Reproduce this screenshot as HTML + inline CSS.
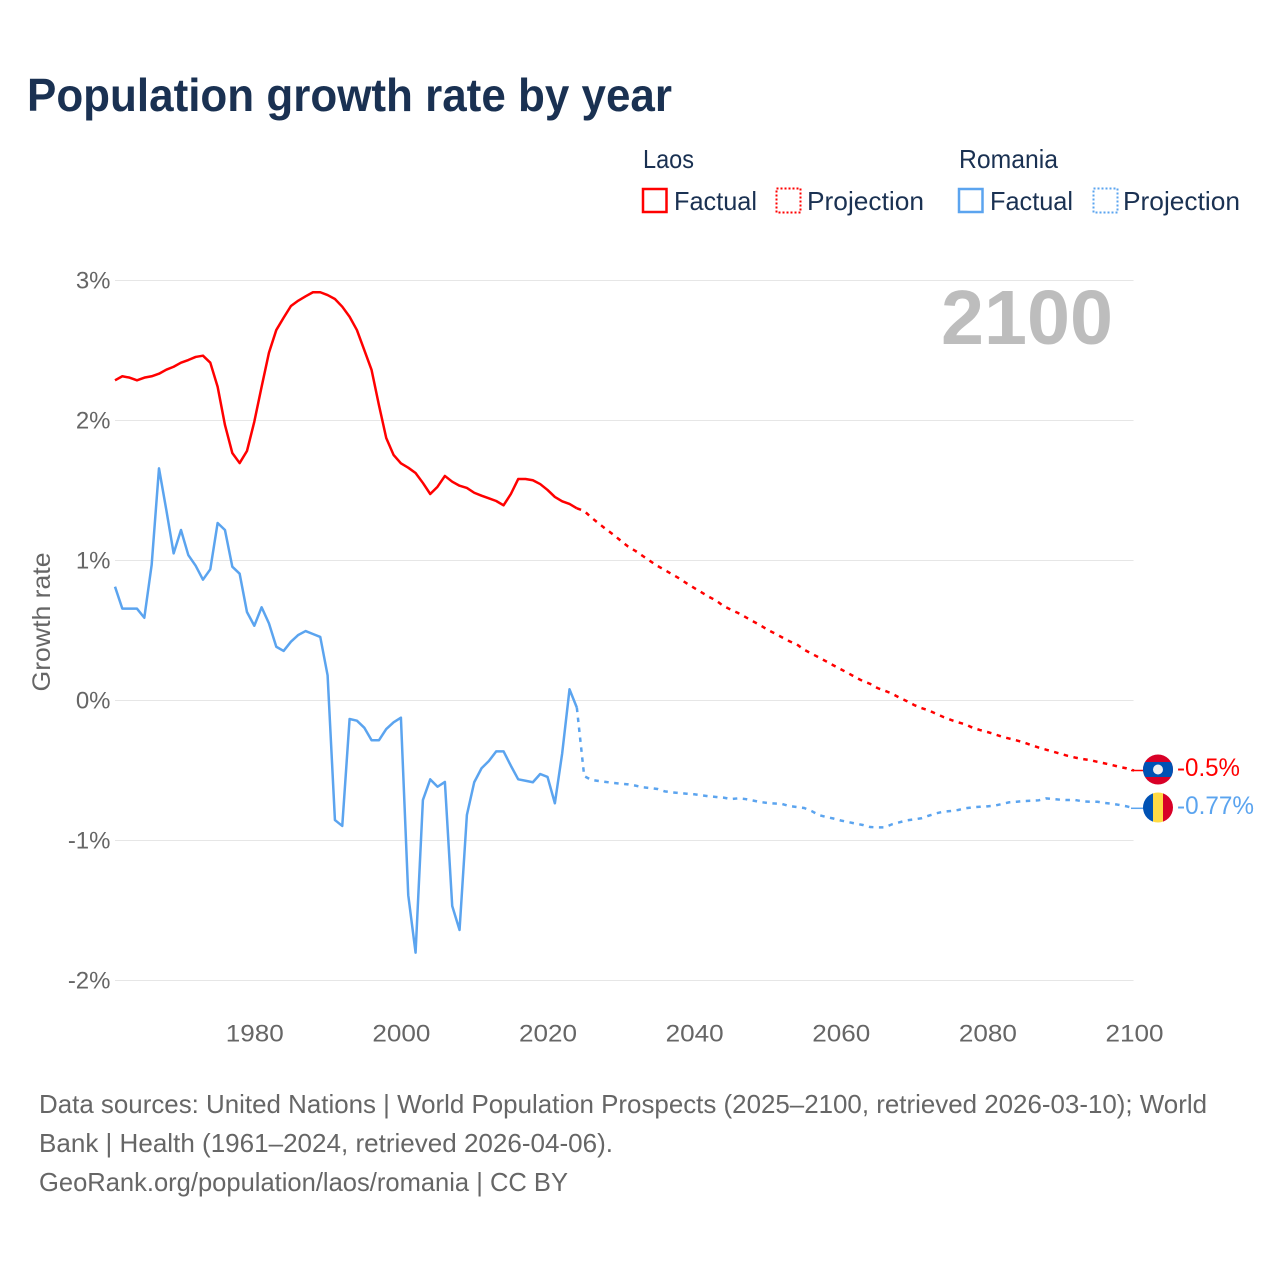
<!DOCTYPE html>
<html lang="en">
<head>
<meta charset="utf-8">
<title>Population growth rate by year</title>
<style>
html,body{margin:0;padding:0;background:#fff}
svg{display:block}
text{font-family:"Liberation Sans",sans-serif}
</style>
</head>
<body>
<svg id="chart" width="1280" height="1280" viewBox="0 0 1280 1280" xmlns="http://www.w3.org/2000/svg">
<rect x="0" y="0" width="1280" height="1280" fill="#fff"/>
<text x="27" y="111" font-size="46" font-weight="700" fill="#1a3152" textLength="645" lengthAdjust="spacingAndGlyphs">Population growth rate by year</text>

<g fill="#1a3152" font-size="26">
<text x="643" y="168" textLength="51" lengthAdjust="spacingAndGlyphs">Laos</text>
<rect x="643" y="189" width="23.5" height="23" fill="none" stroke="#ff0000" stroke-width="2.5"/>
<text x="674" y="210" textLength="83" lengthAdjust="spacingAndGlyphs">Factual</text>
<rect x="776.5" y="188.5" width="24" height="24" fill="none" stroke="#ff0000" stroke-width="2" stroke-dasharray="2 2"/>
<text x="807" y="210" textLength="117" lengthAdjust="spacingAndGlyphs">Projection</text>
<text x="959" y="168" textLength="99" lengthAdjust="spacingAndGlyphs">Romania</text>
<rect x="959" y="189" width="23.5" height="23" fill="none" stroke="#5ba4ef" stroke-width="2.5"/>
<text x="990" y="210" textLength="83" lengthAdjust="spacingAndGlyphs">Factual</text>
<rect x="1093.5" y="188.5" width="24" height="24" fill="none" stroke="#5ba4ef" stroke-width="2" stroke-dasharray="2 2"/>
<text x="1123" y="210" textLength="117" lengthAdjust="spacingAndGlyphs">Projection</text>
</g>

<g id="grid"></g>
<g id="yticks"></g>
<g id="xticks"></g>

<text transform="translate(50,622) rotate(-90)" text-anchor="middle" font-size="25" fill="#666" textLength="139" lengthAdjust="spacingAndGlyphs">Growth rate</text>
<text x="941" y="344" font-size="77" font-weight="700" fill="#bdbdbd" textLength="172" lengthAdjust="spacingAndGlyphs">2100</text>

<g id="series"></g>

<defs>
<clipPath id="clip-laos"><circle cx="1158" cy="769.5" r="15"/></clipPath>
<clipPath id="clip-romania"><circle cx="1158" cy="807.5" r="15"/></clipPath>
</defs>
<g clip-path="url(#clip-laos)">
<rect x="1143" y="754.5" width="30" height="30" fill="#d80027"/>
<rect x="1143" y="762" width="30" height="15" fill="#0052b4"/>
<circle cx="1158" cy="769.5" r="5" fill="#f0f0f0"/>
</g>
<g clip-path="url(#clip-romania)">
<rect x="1143" y="792.5" width="10" height="30" fill="#0052b4"/>
<rect x="1153" y="792.5" width="10" height="30" fill="#ffda44"/>
<rect x="1163" y="792.5" width="10" height="30" fill="#d80027"/>
</g>
<text x="1177" y="776" font-size="25" fill="#ff0000" textLength="63" lengthAdjust="spacingAndGlyphs">-0.5%</text>
<text x="1177" y="814" font-size="25" fill="#5ba4ef" textLength="77" lengthAdjust="spacingAndGlyphs">-0.77%</text>

<g font-size="26" fill="#666">
<text x="39" y="1113" textLength="1168" lengthAdjust="spacingAndGlyphs">Data sources: United Nations | World Population Prospects (2025–2100, retrieved 2026-03-10); World</text>
<text x="39" y="1152" textLength="574" lengthAdjust="spacingAndGlyphs">Bank | Health (1961–2024, retrieved 2026-04-06).</text>
<text x="39" y="1191" textLength="529" lengthAdjust="spacingAndGlyphs">GeoRank.org/population/laos/romania | CC BY</text>
</g>
</svg>
<script>
var firstYear = 1961;
var lastYear = 2100;
var xTickYears = [1980, 2000, 2020, 2040, 2060, 2080, 2100];
var yTickValues = [3, 2, 1, 0, -1, -2];
var yTickLabels = ["3%", "2%", "1%", "0%", "-1%", "-2%"];
var laosFactual = [2.287,2.316,2.306,2.287,2.306,2.316,2.334,2.363,2.384,2.413,2.432,2.454,2.463,2.413,2.241,1.968,1.768,1.696,1.782,1.991,2.241,2.484,2.646,2.734,2.818,2.856,2.887,2.916,2.916,2.896,2.868,2.813,2.741,2.646,2.504,2.361,2.111,1.875,1.754,1.694,1.663,1.625,1.554,1.475,1.527,1.604,1.563,1.534,1.518,1.484,1.463,1.444,1.425,1.394,1.475,1.582,1.582,1.573,1.546,1.504,1.454,1.423,1.404,1.373];
var laosProjection = [1.354,1.306,1.264,1.223,1.184,1.141,1.099,1.068,1.032,0.996,0.961,0.932,0.901,0.871,0.836,0.804,0.773,0.741,0.714,0.675,0.649,0.625,0.596,0.566,0.539,0.505,0.479,0.451,0.423,0.401,0.363,0.335,0.308,0.280,0.251,0.223,0.196,0.166,0.139,0.119,0.089,0.07,0.049,0.02,-0.004,-0.032,-0.054,-0.071,-0.095,-0.118,-0.138,-0.156,-0.17,-0.195,-0.211,-0.225,-0.241,-0.259,-0.272,-0.285,-0.3,-0.319,-0.336,-0.351,-0.366,-0.381,-0.396,-0.408,-0.418,-0.426,-0.438,-0.449,-0.461,-0.474,-0.485,-0.5];
var romaniaFactual = [0.813,0.656,0.656,0.656,0.591,0.968,1.658,1.361,1.051,1.218,1.039,0.963,0.863,0.937,1.268,1.218,0.956,0.906,0.632,0.534,0.666,0.551,0.384,0.354,0.42,0.468,0.496,0.475,0.454,0.18,-0.854,-0.896,-0.132,-0.144,-0.194,-0.284,-0.284,-0.204,-0.156,-0.123,-1.39,-1.801,-0.711,-0.563,-0.616,-0.582,-1.468,-1.639,-0.818,-0.584,-0.484,-0.432,-0.363,-0.363,-0.466,-0.563,-0.573,-0.584,-0.525,-0.546,-0.734,-0.377,0.08,-0.051];
var romaniaProjection = [-0.54,-0.568,-0.575,-0.582,-0.589,-0.594,-0.599,-0.608,-0.62,-0.625,-0.632,-0.649,-0.656,-0.661,-0.666,-0.67,-0.677,-0.684,-0.689,-0.694,-0.704,-0.699,-0.704,-0.714,-0.725,-0.732,-0.736,-0.739,-0.754,-0.761,-0.768,-0.789,-0.818,-0.832,-0.843,-0.857,-0.868,-0.879,-0.889,-0.904,-0.906,-0.906,-0.884,-0.87,-0.856,-0.849,-0.841,-0.823,-0.806,-0.794,-0.789,-0.782,-0.77,-0.763,-0.759,-0.756,-0.751,-0.739,-0.727,-0.723,-0.718,-0.716,-0.713,-0.699,-0.704,-0.709,-0.711,-0.711,-0.72,-0.723,-0.723,-0.732,-0.737,-0.746,-0.756,-0.77];

var NS = "http://www.w3.org/2000/svg";
function xScale(year) { return 115 + (year - firstYear) * (1134 - 115) / (lastYear - firstYear); }
function yScale(value) { return 700.5 - value * 140; }
function svgEl(tag, parentId) {
  var el = document.createElementNS(NS, tag);
  document.getElementById(parentId).appendChild(el);
  return el;
}
function pathFrom(values, startYear, prefix) {
  var d = prefix || "";
  values.forEach(function (v, i) {
    d += (d ? "L" : "M") + xScale(startYear + i).toFixed(2) + " " + yScale(v).toFixed(2);
  });
  return d;
}

yTickValues.forEach(function (v, i) {
  var line = svgEl("line", "grid");
  
  
  line.setAttribute("x1", 115);
  line.setAttribute("x2", 1133.5);
  line.setAttribute("y1", yScale(v));
  line.setAttribute("y2", yScale(v));
  line.setAttribute("stroke", "#e6e6e6");
  line.setAttribute("stroke-width", "1");
  var t = svgEl("text", "yticks");
  
  
  t.setAttribute("x", 110.5);
  t.setAttribute("y", yScale(v) + 8);
  t.setAttribute("text-anchor", "end");
  t.setAttribute("font-size", "24");
  t.setAttribute("fill", "#666");
  t.textContent = yTickLabels[i];
});

xTickYears.forEach(function (yr) {
  var t = svgEl("text", "xticks");
  
  
  t.setAttribute("x", xScale(yr) + 0.5);
  t.setAttribute("y", 1041.5);
  t.setAttribute("text-anchor", "middle");
  t.setAttribute("font-size", "24");
  t.setAttribute("fill", "#666");
  t.setAttribute("textLength", "58");
  t.setAttribute("lengthAdjust", "spacingAndGlyphs");
  t.textContent = String(yr);
});

function drawCountry(factual, projection, colour, slug) {
  var solid = svgEl("path", "series");
  
  
  solid.setAttribute("d", pathFrom(factual, firstYear));
  solid.setAttribute("fill", "none");
  solid.setAttribute("stroke", colour);
  solid.setAttribute("stroke-width", "2.5");
  solid.setAttribute("stroke-linejoin", "round");
  solid.setAttribute("data-series", slug);

  var projYear = firstYear + factual.length - 1;
  var joined = [factual[factual.length - 1]].concat(projection);
  var dashed = svgEl("path", "series");
  
  
  dashed.setAttribute("d", pathFrom(joined, projYear));
  dashed.setAttribute("fill", "none");
  dashed.setAttribute("stroke", colour);
  dashed.setAttribute("stroke-width", "2.5");
  dashed.setAttribute("stroke-dasharray", "4.5 5.5");
  dashed.setAttribute("data-series", slug);

  var end = projection[projection.length - 1];
  var link = svgEl("line", "series");
  
  
  link.setAttribute("x1", xScale(lastYear) - 3);
  link.setAttribute("x2", xScale(lastYear) + 10);
  link.setAttribute("y1", yScale(end));
  link.setAttribute("y2", yScale(end));
  link.setAttribute("stroke", colour);
  link.setAttribute("stroke-width", "1.5");
}
drawCountry(laosFactual, laosProjection, "#ff0000", "laos");
drawCountry(romaniaFactual, romaniaProjection, "#5ba4ef", "romania");
</script>
</body>
</html>
